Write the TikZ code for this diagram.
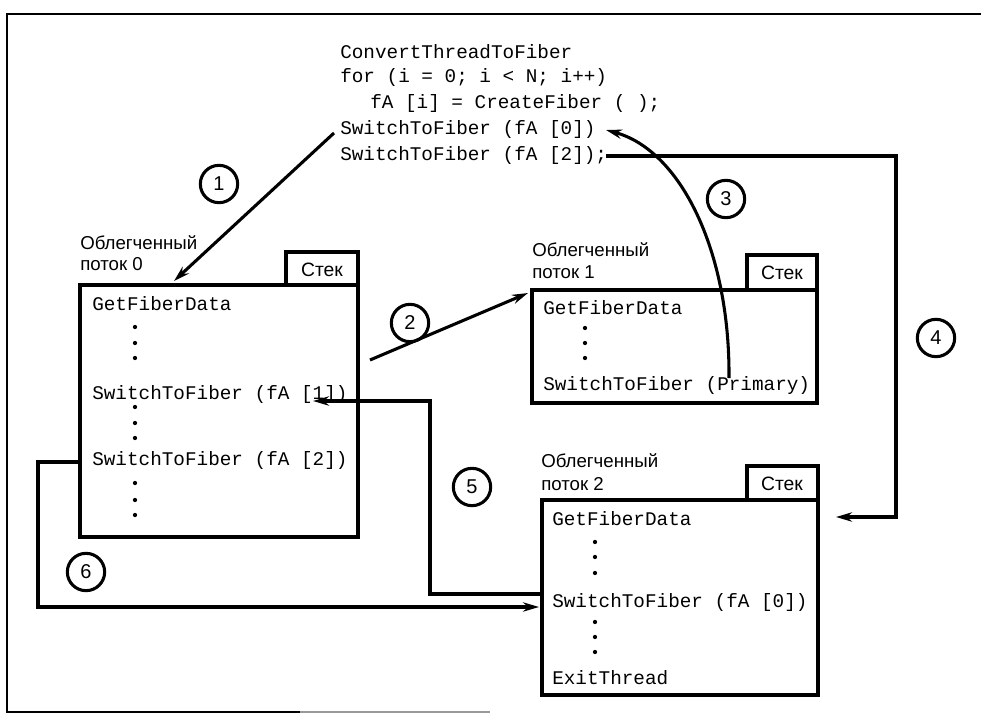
\documentclass[tikz,border=0pt]{standalone}
\usepackage{fontspec}
\setmainfont{Liberation Sans}
\newfontfamily\codefont{Liberation Mono}
\usetikzlibrary{arrows.meta}
\tikzset{
  code/.style={anchor=west,inner sep=0pt,font=\codefont\fontsize{14.5pt}{16pt}\selectfont},
  lbl/.style={anchor=west,inner sep=0pt,font=\fontsize{14pt}{16pt}\selectfont},
  fiberbox/.style={draw,line width=2.4pt},
  tabtext/.style={inner sep=0pt,font=\fontsize{14.5pt}{16pt}\selectfont},
  num/.style={draw,circle,line width=2.3pt,minimum size=28pt,inner sep=0pt,font=\fontsize{15pt}{16pt}\selectfont},
  conn/.style={line width=2.3pt},
  arr/.style={conn,-{Stealth[length=12pt,width=7pt]}},
  dotm/.style={circle,fill,inner sep=0pt,minimum size=3.2pt},
  frameline/.style={line width=1.8pt}
}
\begin{document}
\begin{tikzpicture}[x=0.75pt,y=-0.75pt]
\useasboundingbox (0,0) rectangle (981,717);
% outer frame
\draw[frameline] (981,14) -- (7,14) -- (7,712) -- (300,712);
\draw[frameline,black!40] (300,712) -- (490,712);

% top code
\node[code] (c1) at (340,52) {ConvertThreadToFiber};
\node[code] (c2) at (340,78) {for (i = 0; i < N; i++)};
\node[code] (c3) at (370,104) {fA [i] = CreateFiber ( );};
\node[code] (c4) at (340,130) {SwitchToFiber (fA [0])};
\node[code] (c5) at (340,156) {SwitchToFiber (fA [2]);};

% fiber 0
\draw[fiberbox] (286,285) rectangle (358,252);
\node[tabtext] (t0) at (322,270) {Стек};
\draw[fiberbox,fill=white] (80,285) rectangle (358,537);
\node[lbl] (l0a) at (80,243) {Облегченный};
\node[lbl] (l0b) at (80,264) {поток 0};
\node[code] (f0a) at (92,304) {GetFiberData};
\node[dotm] at (135,327) {}; \node[dotm] at (135,343) {}; \node[dotm] at (135,358) {};
\node[code] (f0b) at (92,394) {SwitchToFiber (fA [1])};
\node[dotm] at (135,407) {}; \node[dotm] at (135,423) {}; \node[dotm] at (135,438) {};
\node[code] (f0c) at (92,460) {SwitchToFiber (fA [2])};
\node[dotm] at (135,483) {}; \node[dotm] at (135,500) {}; \node[dotm] at (135,515) {};

% fiber 1
\draw[fiberbox] (747,290) rectangle (817,255);
\node[tabtext] (t1) at (782,273) {Стек};
\draw[fiberbox,fill=white] (532,290) rectangle (817,403);
\node[lbl] (l1a) at (532,250) {Облегченный};
\node[lbl] (l1b) at (532,272) {поток 1};
\node[code] (f1a) at (543,308) {GetFiberData};
\node[dotm] at (585,328) {}; \node[dotm] at (585,343) {}; \node[dotm] at (585,358) {};
\node[code] (f1b) at (543,385) {SwitchToFiber (Primary)};

% fiber 2
\draw[fiberbox] (747,500) rectangle (818,466);
\node[tabtext] (t2) at (782,484) {Стек};
\draw[fiberbox,fill=white] (542,500) rectangle (818,695);
\node[lbl] (l2a) at (541,461) {Облегченный};
\node[lbl] (l2b) at (541,484) {поток 2};
\node[code] (f2a) at (552,519) {GetFiberData};
\node[dotm] at (595,542) {}; \node[dotm] at (595,557) {}; \node[dotm] at (595,573) {};
\node[code] (f2b) at (552,602) {SwitchToFiber (fA [0])};
\node[dotm] at (595,622) {}; \node[dotm] at (595,637) {}; \node[dotm] at (595,652) {};
\node[code] (f2c) at (552,678) {ExitThread};

% numbers
\node[num] (n1) at (219,184) {1};
\node[num] (n2) at (410,323) {2};
\node[num] (n3) at (726,199) {3};
\node[num] (n4) at (936,338) {4};
\node[num] (n5) at (472,487) {5};
\node[num] (n6) at (86,572) {6};

% connector coordinates
\coordinate (a1s) at (334,133);
\coordinate (a1e) at (174,281);
\coordinate (a2s) at (370,360);
\coordinate (a2e) at (528,293);
\coordinate (a3s) at (729,378);
\coordinate (a3e) at (606,130);
\coordinate (a4s) at (606,156);
\coordinate (a4c1) at (896,156);
\coordinate (a4c2) at (896,517);
\coordinate (a4e) at (836,517);
\coordinate (a5s) at (541,594);
\coordinate (a5c1) at (430,594);
\coordinate (a5c2) at (430,401);
\coordinate (a5e) at (313,401);
\coordinate (a6s) at (80,462);
\coordinate (a6c1) at (38,462);
\coordinate (a6c2) at (38,607);
\coordinate (a6e) at (539,607);

\draw[arr] (a1s) -- (a1e);
\draw[arr] (a2s) -- (a2e);
\draw[arr] (a3s) .. controls (730,250) and (680,150) .. (a3e);
\draw[arr] (a4s) -- (a4c1) -- (a4c2) -- (a4e);
\draw[arr] (a5s) -- (a5c1) -- (a5c2) -- (a5e);
\draw[arr] (a6s) -- (a6c1) -- (a6c2) -- (a6e);
\end{tikzpicture}
\end{document}
